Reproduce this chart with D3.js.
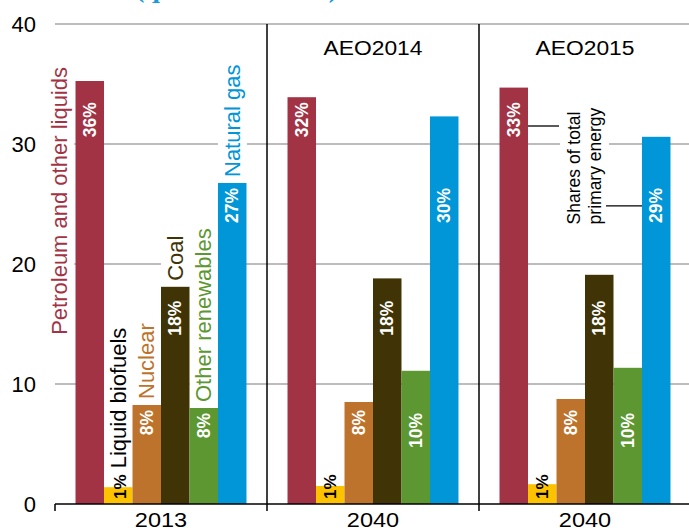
<!DOCTYPE html>
<html>
<head>
<meta charset="utf-8">
<script src="https://cdn.jsdelivr.net/npm/d3@7"></script>
<style>
  html, body { margin: 0; padding: 0; background: #fff; }
  svg { display: block; font-family: "Liberation Sans", Arial, sans-serif; }
</style>
</head>
<body>
<svg id="chart" width="689" height="531"></svg>
<script>
// ---- data ----
const groups = ["2013", "AEO2014 2040", "AEO2015 2040"];
const groupTicks = ["2013", "2040", "2040"];
const groupHeads = ["", "AEO2014", "AEO2015"];
const series = ["Petroleum and other liquids", "Liquid biofuels", "Nuclear", "Coal", "Other renewables", "Natural gas"];
const seriesLabels = ["Petroleum and other liquids", "Liquid biofuels", "Nuclear", "Coal", "Other renewables", "Natural gas"];
const values2013 = [35.25, 1.4, 8.25, 18.1, 8.0, 26.75];
const valuesAEO2014 = [33.9, 1.5, 8.5, 18.8, 11.1, 32.3];
const valuesAEO2015 = [34.7, 1.65, 8.75, 19.1, 11.35, 30.6];
const shares2013 = ["36%", "1%", "8%", "18%", "8%", "27%"];
const sharesAEO2014 = ["32%", "1%", "8%", "18%", "10%", "30%"];
const sharesAEO2015 = ["33%", "1%", "8%", "18%", "10%", "29%"];
const yTicks = [0, 10, 20, 30, 40];
const colors = ["#a23344", "#fdc300", "#bd732b", "#403306", "#5d9732", "#0096d7"];
const titleText = "(quadrillion Btu)";
const annotationLines = ["Shares of total", "primary energy"];

const valueRows = [values2013, valuesAEO2014, valuesAEO2015];
const shareRows = [shares2013, sharesAEO2014, sharesAEO2015];

// ---- layout ----
const svg = d3.select("#chart");
const y = d3.scaleLinear().domain([0, 40]).range([504, 24]);
const x0 = d3.scaleBand().domain(groups).range([55, 691]).paddingInner(0).paddingOuter(0);
const x1 = d3.scaleBand().domain(series).range([0, x0.bandwidth()]).paddingInner(0).paddingOuter(0.72);

const data = [];
groups.forEach((g, gi) => series.forEach((s, si) => data.push({
  group: g, gi, series: s, si, value: valueRows[gi][si], share: shareRows[gi][si]
})));
const barX = d => x0(d.group) + x1(d.series);
const barCx = d => barX(d) + x1.bandwidth() / 2;

function widen(sel, k) {
  sel.each(function () {
    const len = this.getComputedTextLength();
    d3.select(this).attr("textLength", len * k).attr("lengthAdjust", "spacingAndGlyphs");
  });
}

// title (mostly cropped above the frame)
svg.append("text").attr("x", 135).attr("y", -3)
  .attr("font-family", "'Liberation Serif', 'Times New Roman', serif")
  .attr("font-weight", "bold").attr("font-size", 28).attr("fill", "#1a9ad6")
  .text(titleText);

// gridlines
svg.append("g").selectAll("line").data(yTicks.filter(t => t > 0)).join("line")
  .attr("x1", 55).attr("x2", 689)
  .attr("y1", d => y(d)).attr("y2", d => y(d))
  .attr("stroke", "#a6a6a6").attr("stroke-width", 1.3);

// y axis labels
const yAxis = svg.append("g").attr("transform", "translate(36,0)")
  .call(d3.axisLeft(y).tickValues(yTicks).tickSize(0).tickPadding(0));
yAxis.select(".domain").remove();
yAxis.selectAll("text").attr("font-size", 22).attr("font-family", "'Liberation Sans', Arial, sans-serif").attr("fill", "#000");

// layers
const bgLayer = svg.append("g");
const barLayer = svg.append("g");
const labelLayer = svg.append("g");

// category labels (first group only)
const first = data.filter(d => d.gi === 0);
function addBg(g, pad) {
  const b = g.node().getBBox();
  g.insert("rect", ":first-child")
    .attr("x", b.x - pad).attr("y", b.y - pad)
    .attr("width", b.width + 2 * pad).attr("height", b.height + 2 * pad)
    .attr("fill", "#fff");
}
first.forEach(d => {
  let cx = barCx(d);
  let ystart;
  let anchor = "start";
  if (d.si === 0) { cx = barX(d) - 16; ystart = y(d.value) - 14; anchor = "end"; }
  else if (d.si === 1) { ystart = y(0) - 5; }
  else { ystart = y(d.value) - 6; }
  const g = bgLayer.append("g").attr("transform", `translate(${cx},${ystart}) rotate(-90)`);
  const t = g.append("text").attr("dy", "0.35em").attr("text-anchor", anchor)
    .attr("font-size", 22).attr("fill", d.si === 1 ? "#000" : colors[d.si]);
  if (d.si === 1) {
    t.append("tspan").attr("font-weight", "bold").attr("font-size", 17).attr("fill", "#000").text(d.share);
    t.append("tspan").text("\u00a0" + seriesLabels[d.si]);
  } else {
    t.text(seriesLabels[d.si]);
  }
  addBg(g, 2);
  const clone = labelLayer.append("g").attr("transform", g.attr("transform"));
  clone.node().appendChild(t.node());
});

// annotation
const annX = x0(groups[2]) + x1(series[0]) + x1.bandwidth();
const annLine1Y = 31.5, annLine2Y = 24.85, annStartY = 23.3;
const annGroup = bgLayer.append("g")
  .attr("transform", `translate(${annX + 52},${y(annStartY)}) rotate(-90)`);
const annText = annGroup.append("text").attr("font-size", 17.5).attr("fill", "#000");
annotationLines.forEach((l, i) => annText.append("tspan").attr("x", 0).attr("dy", i === 0 ? 0 : 21).text(l));
addBg(annGroup, 4);
const annClone = labelLayer.append("g").attr("transform", annGroup.attr("transform"));
annClone.node().appendChild(annText.node());
const gasX = x0(groups[2]) + x1(series[5]);
labelLayer.append("line").attr("x1", annX).attr("x2", annX + 31)
  .attr("y1", y(annLine1Y)).attr("y2", y(annLine1Y)).attr("stroke", "#000").attr("stroke-width", 1.3);
labelLayer.append("line").attr("x1", gasX - 36).attr("x2", gasX)
  .attr("y1", y(annLine2Y)).attr("y2", y(annLine2Y)).attr("stroke", "#000").attr("stroke-width", 1.3);

// bars
barLayer.selectAll("rect").data(data).join("rect")
  .attr("x", barX).attr("width", x1.bandwidth())
  .attr("y", d => y(d.value)).attr("height", d => y(0) - y(d.value))
  .attr("fill", d => colors[d.si]);

// share labels inside bars
const minBySeries = series.map((s, si) => d3.min(valueRows, r => r[si]));
data.forEach(d => {
  if (d.si === 1) {
    if (d.gi === 0) return; // drawn with category label
    labelLayer.append("text")
      .attr("transform", `translate(${barCx(d)},${y(0) - 5}) rotate(-90)`)
      .attr("dy", "0.35em").attr("text-anchor", "start")
      .attr("font-size", 17).attr("font-weight", "bold").attr("fill", "#000")
      .text(d.share);
    return;
  }
  const off = d.si === 3 ? 14 : 5;
  labelLayer.append("text")
    .attr("transform", `translate(${barCx(d)},${y(minBySeries[d.si]) + off}) rotate(-90)`)
    .attr("dy", "0.35em").attr("text-anchor", "end")
    .attr("font-size", 17.5).attr("font-weight", "bold").attr("fill", "#fff")
    .text(d.share);
});

// x axis
svg.append("line").attr("x1", 55).attr("x2", 689).attr("y1", y(0)).attr("y2", y(0))
  .attr("stroke", "#000").attr("stroke-width", 1.6);
const bounds = groups.map(g => x0(g));
svg.append("g").selectAll("line").data(bounds).join("line")
  .attr("x1", d => d).attr("x2", d => d)
  .attr("y1", (d, i) => i === 0 ? y(0) : y(40)).attr("y2", y(0) + 7)
  .attr("stroke", "#000").attr("stroke-width", 1.5);

const xAxis = svg.append("g").attr("transform", `translate(0,${y(0) + 8})`)
  .call(d3.axisBottom(x0).tickSize(0).tickPadding(0).tickFormat((d, i) => groupTicks[i]));
xAxis.select(".domain").remove();
xAxis.selectAll("text").attr("font-size", 21).attr("font-family", "'Liberation Sans', Arial, sans-serif").attr("fill", "#000");
widen(xAxis.selectAll("text"), 1.12);

// group headings
const heads = svg.append("g").selectAll("text").data(groups).join("text")
  .attr("x", d => x0(d) + x0.bandwidth() / 2).attr("y", 55)
  .attr("text-anchor", "middle").attr("font-size", 19.5).attr("fill", "#000")
  .text((d, i) => groupHeads[i]);
widen(heads.filter((d, i) => groupHeads[i] !== ""), 1.17);
</script>
</body>
</html>
